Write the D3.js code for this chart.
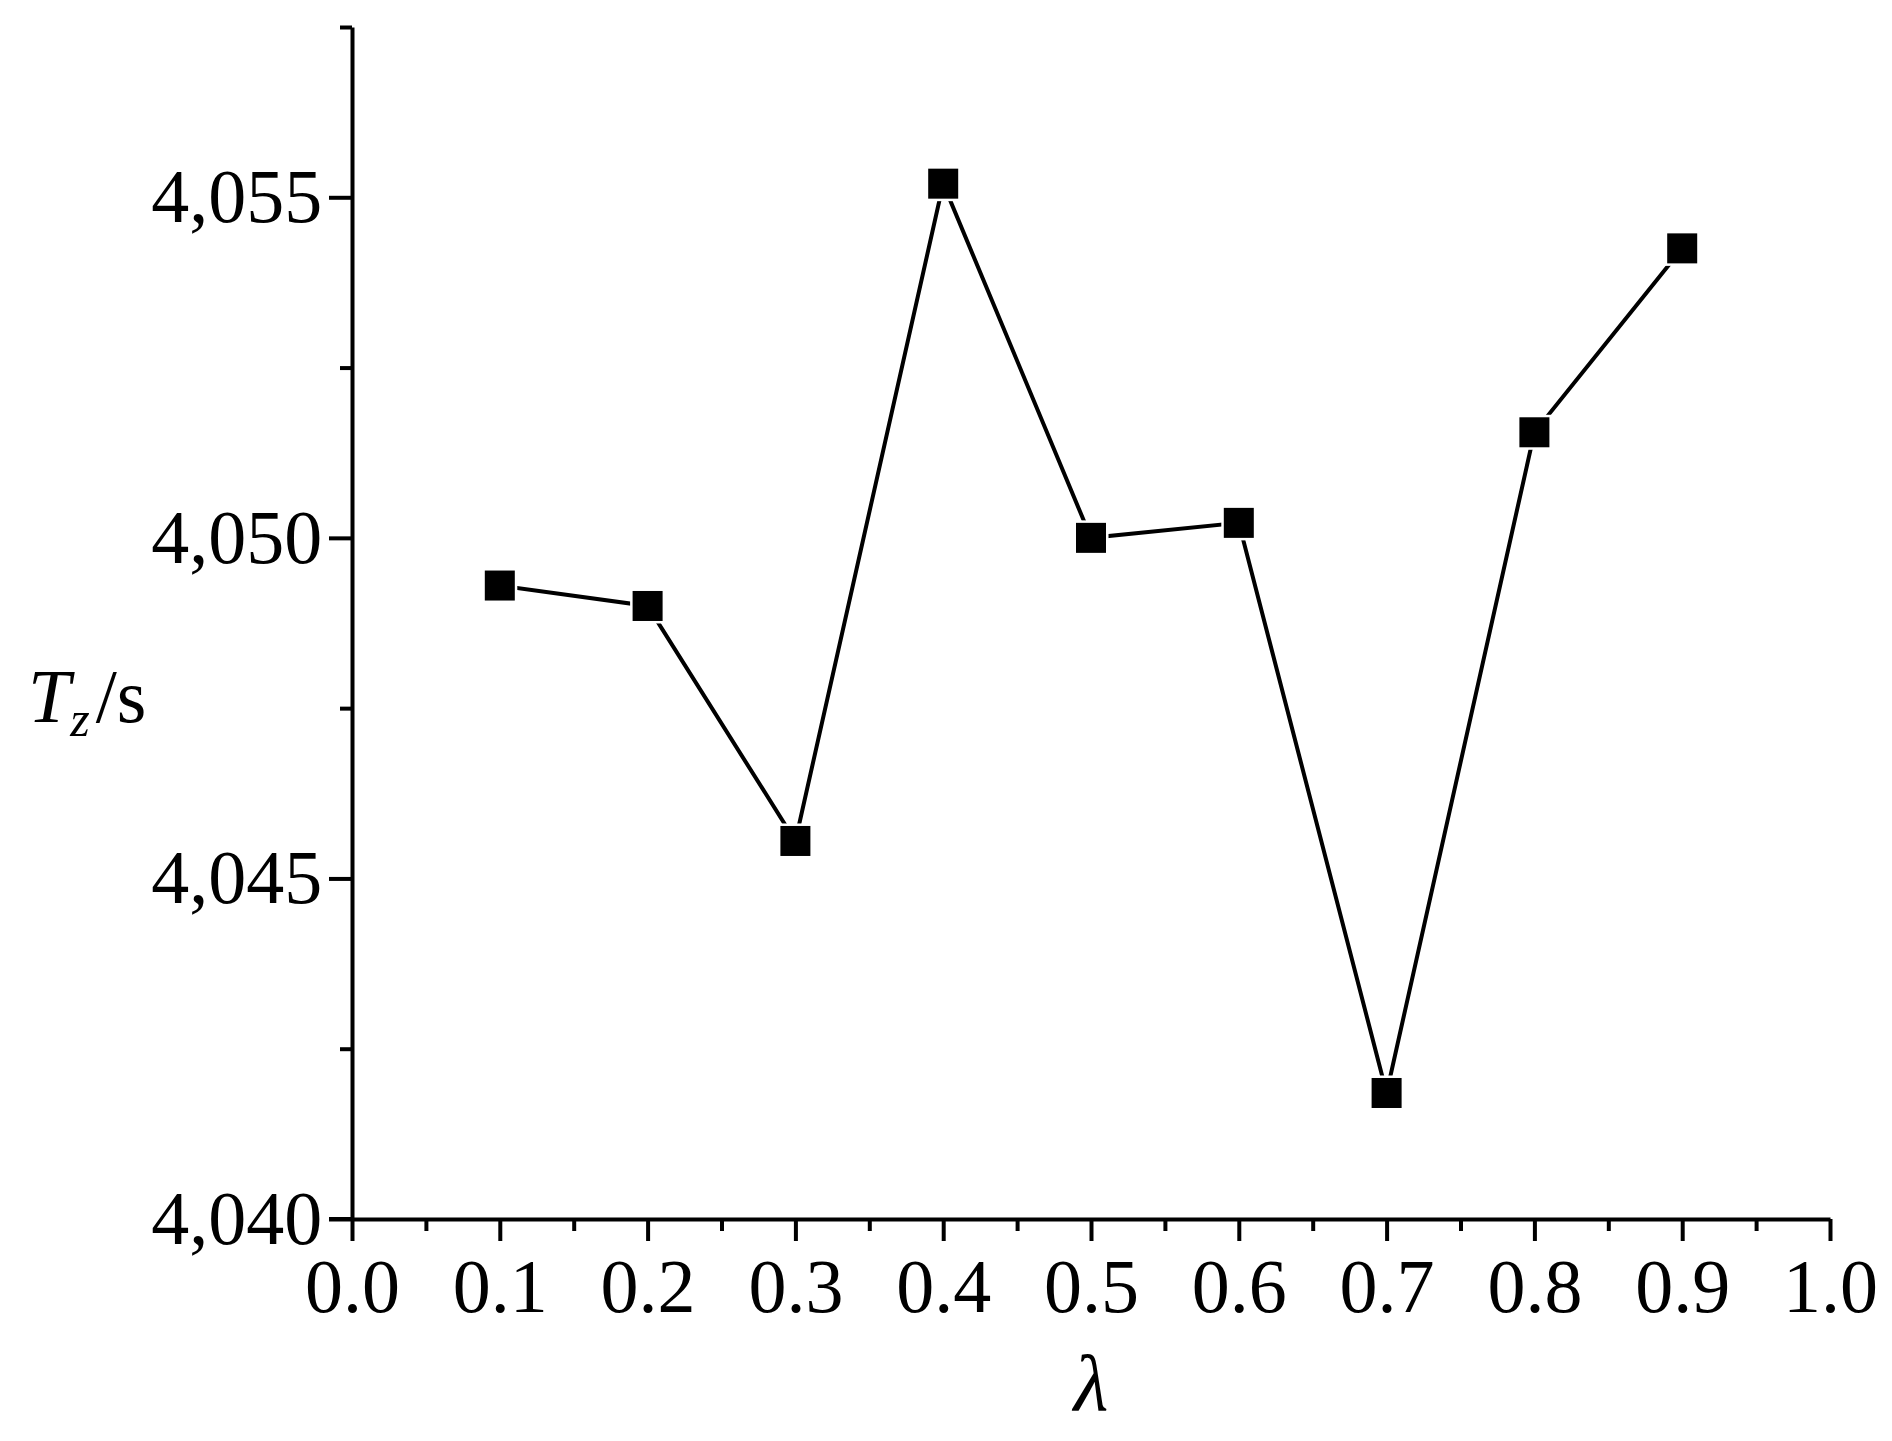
<!DOCTYPE html>
<html><head><meta charset="utf-8">
<script src="https://cdn.jsdelivr.net/npm/d3@7"></script>
<style>body{margin:0;background:#fff}</style>
</head><body>
<svg id="chart" width="1892" height="1441"></svg>
<script>
// data
var lambdas = [0.1, 0.2, 0.3, 0.4, 0.5, 0.6, 0.7, 0.8, 0.9];
var tz = [4049.3, 4049.0, 4045.55, 4055.2, 4050.0, 4050.22, 4041.85, 4051.55, 4054.25];
var xTicks = [0, 0.1, 0.2, 0.3, 0.4, 0.5, 0.6, 0.7, 0.8, 0.9, 1.0];
var yTicks = [4040, 4045, 4050, 4055];

var svg = d3.select("#chart");
var font = "'Liberation Serif','Times New Roman',serif";

var x = d3.scaleLinear().domain([0, 1]).range([352, 1830]);
var y = d3.scaleLinear().domain([4040, 4057.5]).range([1219, 27]);

// x axis
var xAxis = svg.append("g").attr("transform", "translate(0,1219)")
    .call(d3.axisBottom(x).tickValues(xTicks).tickFormat(d3.format(".1f")).tickSize(22).tickSizeOuter(0));
svg.append("g").attr("transform", "translate(0,1219)")
    .call(d3.axisBottom(x).tickValues(d3.range(0.05, 1, 0.1)).tickFormat("").tickSize(12).tickSizeOuter(0))
    .select(".domain").remove();

// y axis
var yAxis = svg.append("g").attr("transform", "translate(352,0)")
    .call(d3.axisLeft(y).tickValues(yTicks).tickSize(23).tickSizeOuter(0));
svg.append("g").attr("transform", "translate(352,0)")
    .call(d3.axisLeft(y).tickValues([4042.5, 4047.5, 4052.5, 4057.5]).tickFormat("").tickSize(12).tickSizeOuter(0))
    .select(".domain").remove();

svg.selectAll(".domain, .tick line").attr("stroke", "#000").attr("stroke-width", 4);
xAxis.selectAll("text").attr("font-family", font).attr("font-size", 76).attr("fill", "#000").attr("dy", "0.9em");
yAxis.selectAll("text").attr("font-family", font).attr("font-size", 76).attr("fill", "#000").attr("dx", "-0.05em");
// extend x axis line a little to the left so it meets the y tick
svg.append("line").attr("x1", 329).attr("x2", 352).attr("y1", 1219).attr("y2", 1219)
    .attr("stroke", "#000").attr("stroke-width", 4);

// line + markers
var pts = lambdas.map(function(d, i){ return [x(d), y(tz[i])]; });
svg.append("path").attr("d", d3.line()(pts))
    .attr("fill", "none").attr("stroke", "#000").attr("stroke-width", 4);
svg.selectAll(".m").data(pts).enter().append("rect")
    .attr("x", function(d){ return d[0] - 15; })
    .attr("y", function(d){ return d[1] - 15; })
    .attr("width", 30).attr("height", 30)
    .attr("fill", "#000").attr("stroke", "#fff").attr("stroke-width", 5).attr("paint-order", "stroke");

// axis titles
var yl = svg.append("text").attr("x", 28).attr("y", 722)
    .attr("font-family", font).attr("font-size", 76).attr("fill", "#000");
yl.append("tspan").attr("font-style", "italic").text("T");
yl.append("tspan").attr("font-style", "italic").attr("font-size", 50).attr("dy", 14).text("z");
yl.append("tspan").attr("dy", -14).attr("dx", 6).text("/s");

svg.append("text").attr("x", x(0.5)).attr("y", 1410).attr("text-anchor", "middle")
    .attr("font-family", font).attr("font-size", 80).attr("font-style", "italic").text("λ");
</script>
</body></html>
